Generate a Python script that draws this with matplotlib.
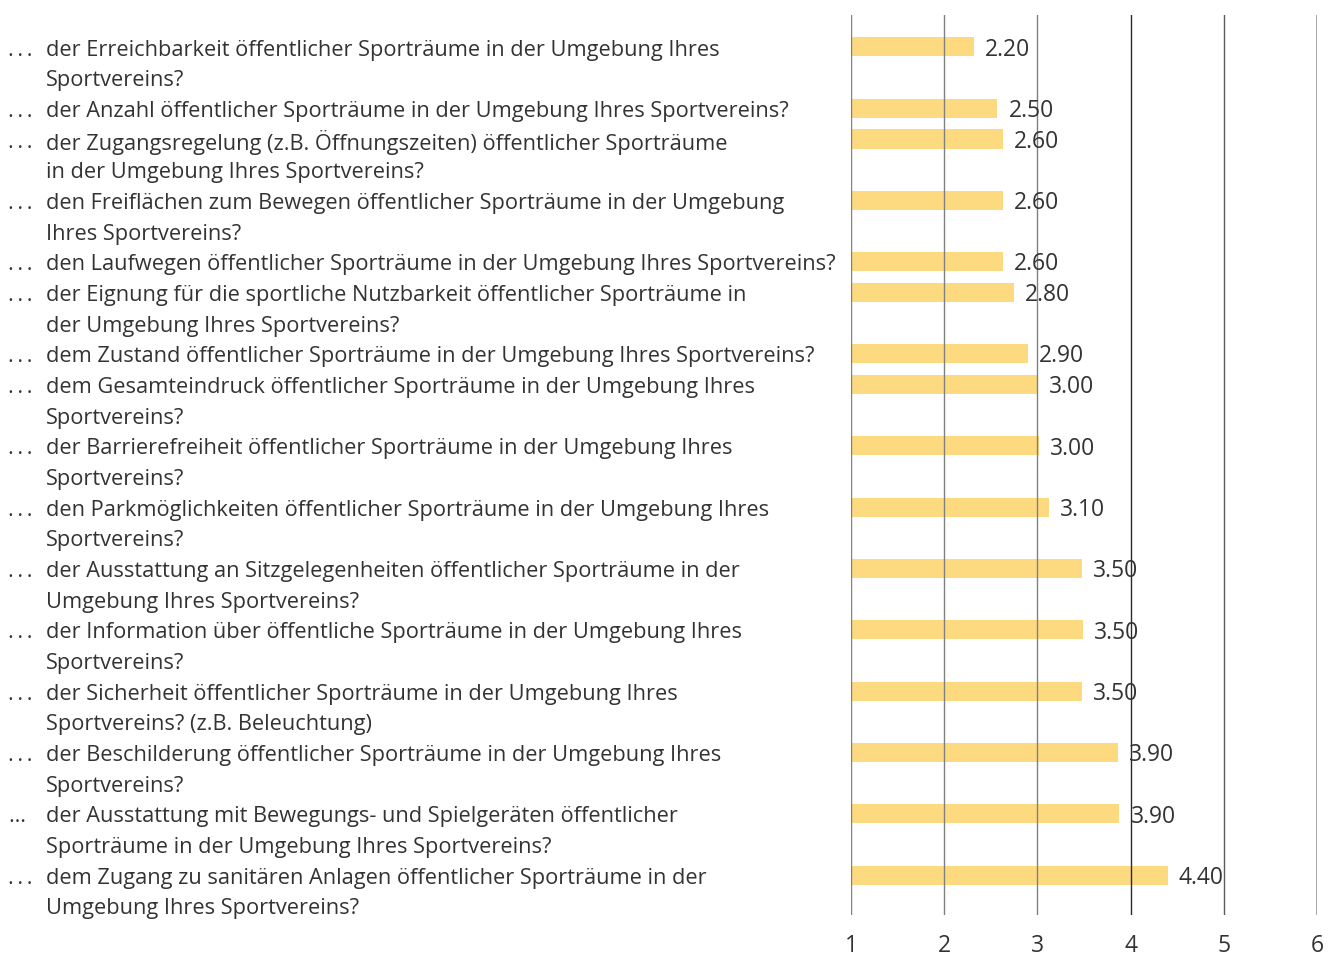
import matplotlib
matplotlib.use("Agg")
import matplotlib.pyplot as plt
import matplotlib.transforms as mtransforms

plt.rcParams['font.family'] = ['Open Sans', 'DejaVu Sans']

# items (line breaks as in the original layout)
items = [
    "der Erreichbarkeit öffentlicher Sporträume in der Umgebung Ihres\nSportvereins?",
    "der Anzahl öffentlicher Sporträume in der Umgebung Ihres Sportvereins?",
    "der Zugangsregelung (z.B. Öffnungszeiten) öffentlicher Sporträume\nin der Umgebung Ihres Sportvereins?",
    "den Freiflächen zum Bewegen öffentlicher Sporträume in der Umgebung\nIhres Sportvereins?",
    "den Laufwegen öffentlicher Sporträume in der Umgebung Ihres Sportvereins?",
    "der Eignung für die sportliche Nutzbarkeit öffentlicher Sporträume in\nder Umgebung Ihres Sportvereins?",
    "dem Zustand öffentlicher Sporträume in der Umgebung Ihres Sportvereins?",
    "dem Gesamteindruck öffentlicher Sporträume in der Umgebung Ihres\nSportvereins?",
    "der Barrierefreiheit öffentlicher Sporträume in der Umgebung Ihres\nSportvereins?",
    "den Parkmöglichkeiten öffentlicher Sporträume in der Umgebung Ihres\nSportvereins?",
    "der Ausstattung an Sitzgelegenheiten öffentlicher Sporträume in der\nUmgebung Ihres Sportvereins?",
    "der Information über öffentliche Sporträume in der Umgebung Ihres\nSportvereins?",
    "der Sicherheit öffentlicher Sporträume in der Umgebung Ihres\nSportvereins? (z.B. Beleuchtung)",
    "der Beschilderung öffentlicher Sporträume in der Umgebung Ihres\nSportvereins?",
    "der Ausstattung mit Bewegungs- und Spielgeräten öffentlicher\nSporträume in der Umgebung Ihres Sportvereins?",
    "dem Zugang zu sanitären Anlagen öffentlicher Sporträume in der\nUmgebung Ihres Sportvereins?",
]
prefixes = [".\u2009.\u2009."] * 14 + ["\u2026", ".\u2009.\u2009."]

# bar lengths as drawn, and the printed value labels
bar_values = [2.32, 2.57, 2.63, 2.63, 2.63, 2.75, 2.90, 3.00,
              3.02, 3.12, 3.48, 3.49, 3.48, 3.86, 3.88, 4.40]
value_labels = ["2.20", "2.50", "2.60", "2.60", "2.60", "2.80", "2.90", "3.00",
                "3.00", "3.10", "3.50", "3.50", "3.50", "3.90", "3.90", "4.40"]

scale_ticks = [1, 2, 3, 4, 5, 6]
grid_colors = ["#808080", "#808080", "#808080", "#2a2a2a", "#5a5a5a", "#a0a0a0"]
grid_widths = [1.0, 1.0, 1.0, 1.0, 1.0, 2.0]

text_color = "#333333"
bar_color = "#FDDA80"
W, H = 1328, 958

fig = plt.figure(figsize=(W / 100, H / 100), dpi=100)
ax = fig.add_axes([851 / W, (H - 915) / H, (1317 - 851) / W, 900 / H])

# each item starts on the next free text line
rows = []
line = 0
for it in items:
    rows.append(line)
    line += len(it.split("\n"))

ax.barh(rows, [v - 1 for v in bar_values], left=1, height=0.62,
        color=bar_color, zorder=1)

for x, c, lw in zip(scale_ticks, grid_colors, grid_widths):
    ax.axvline(x, color=c, lw=lw, zorder=2)

for r, v, lab in zip(rows, bar_values, value_labels):
    ax.annotate(lab, (v, r), xytext=(8, -2), textcoords="offset points",
                va="center", ha="left", fontsize=16.5, color=text_color, zorder=3)

trans = mtransforms.blended_transform_factory(fig.transFigure, ax.transData)
for r, it, p in zip(rows, items, prefixes):
    ax.text(8 / W, r + 0.1, p, transform=trans, ha="left", va="center",
            fontsize=15.7, color=text_color, clip_on=False)
    for k, part in enumerate(it.split("\n")):
        ax.text(46 / W, r + k + 0.1, part, transform=trans, ha="left", va="center",
                fontsize=15.7, color=text_color, clip_on=False)

ax.set_xlim(1, 6)
ax.set_ylim(28.30, -1.043)
ax.set_xticks(scale_ticks)
ax.set_xticklabels([str(t) for t in scale_ticks])
ax.set_yticks([])
ax.tick_params(axis="x", length=0, pad=14, labelsize=16.5, labelcolor=text_color)
for s in ax.spines.values():
    s.set_visible(False)

fig.savefig("out.png", dpi=100, facecolor="white")
